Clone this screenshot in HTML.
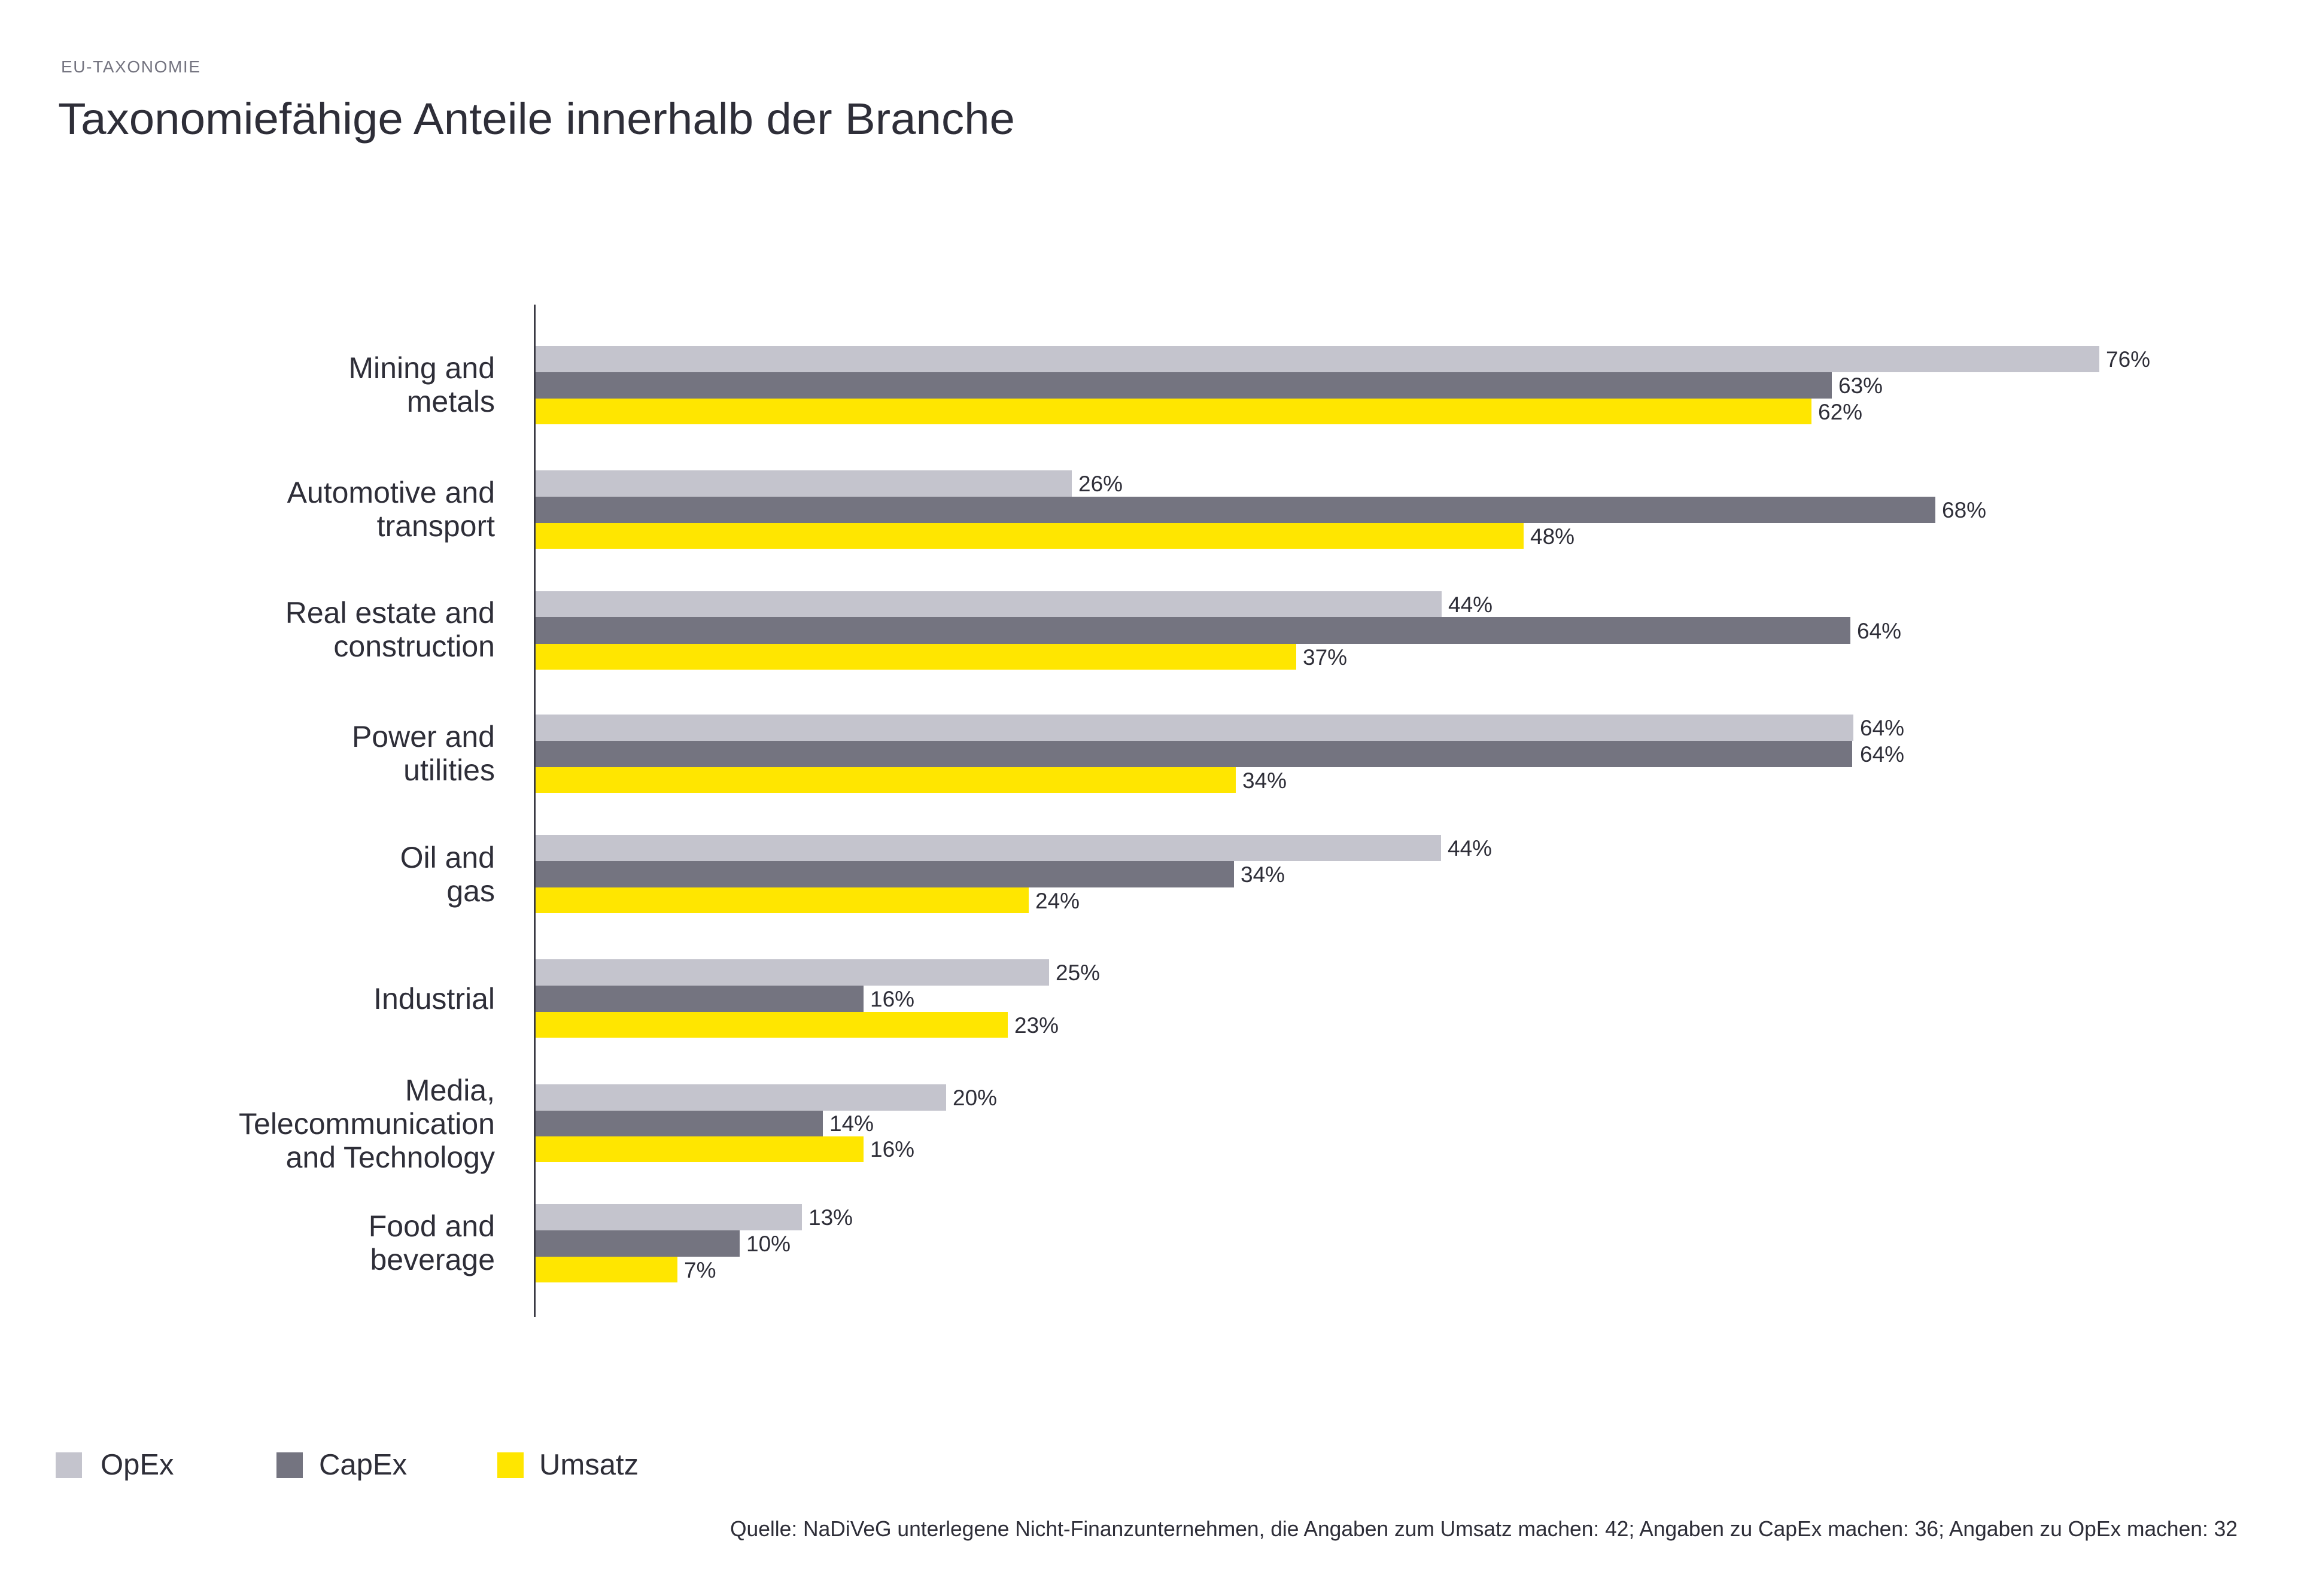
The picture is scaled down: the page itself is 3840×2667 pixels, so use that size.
<!DOCTYPE html>
<html>
<head>
<meta charset="utf-8">
<style>
  html, body { margin: 0; padding: 0; background: #ffffff; }
  svg { display: block; }
  text { font-family: "Liberation Sans", "DejaVu Sans", sans-serif; fill: #2e2e38; }
</style>
</head>
<body>
<svg width="3840" height="2667" viewBox="0 0 3840 2667" xmlns="http://www.w3.org/2000/svg">
  <rect x="0" y="0" width="3840" height="2667" fill="#ffffff"/>

  <!-- Header -->
  <text x="102" y="121" font-size="28" style="fill:#747480" textLength="232" lengthAdjust="spacing">EU-TAXONOMIE</text>
  <text x="97" y="224" font-size="74" textLength="1599" lengthAdjust="spacingAndGlyphs">Taxonomiefähige Anteile innerhalb der Branche</text>

  <!-- Axis -->
  <rect x="892" y="509" width="3" height="1692" fill="#3a3a44"/>

  <!-- Mining and metals (top 578) -->
  <rect x="895" y="578" width="2613" height="44" fill="#c4c4cd"/>
  <rect x="895" y="622" width="2166" height="44" fill="#747480"/>
  <rect x="895" y="666" width="2132" height="43" fill="#ffe600"/>
  <text x="3519" y="613" font-size="37">76%</text>
  <text x="3072" y="657" font-size="37">63%</text>
  <text x="3038" y="701" font-size="37">62%</text>
  <text x="827" y="632" font-size="50" text-anchor="end">Mining and</text>
  <text x="827" y="688" font-size="50" text-anchor="end">metals</text>

  <!-- Automotive and transport (top 786) -->
  <rect x="895" y="786" width="896" height="44" fill="#c4c4cd"/>
  <rect x="895" y="830" width="2339" height="44" fill="#747480"/>
  <rect x="895" y="874" width="1651" height="43" fill="#ffe600"/>
  <text x="1802" y="821" font-size="37">26%</text>
  <text x="3245" y="865" font-size="37">68%</text>
  <text x="2557" y="909" font-size="37">48%</text>
  <text x="827" y="840" font-size="50" text-anchor="end">Automotive and</text>
  <text x="827" y="896" font-size="50" text-anchor="end">transport</text>

  <!-- Real estate and construction (top 988) -->
  <rect x="895" y="988" width="1514" height="43" fill="#c4c4cd"/>
  <rect x="895" y="1031" width="2197" height="45" fill="#747480"/>
  <rect x="895" y="1076" width="1271" height="43" fill="#ffe600"/>
  <text x="2420" y="1023" font-size="37">44%</text>
  <text x="3103" y="1067" font-size="37">64%</text>
  <text x="2177" y="1111" font-size="37">37%</text>
  <text x="827" y="1041" font-size="50" text-anchor="end">Real estate and</text>
  <text x="827" y="1097" font-size="50" text-anchor="end">construction</text>

  <!-- Power and utilities (top 1194) -->
  <rect x="895" y="1194" width="2202" height="44" fill="#c4c4cd"/>
  <rect x="895" y="1238" width="2200" height="44" fill="#747480"/>
  <rect x="895" y="1282" width="1170" height="43" fill="#ffe600"/>
  <text x="3108" y="1229" font-size="37">64%</text>
  <text x="3108" y="1273" font-size="37">64%</text>
  <text x="2076" y="1317" font-size="37">34%</text>
  <text x="827" y="1248" font-size="50" text-anchor="end">Power and</text>
  <text x="827" y="1304" font-size="50" text-anchor="end">utilities</text>

  <!-- Oil and gas (top 1395) -->
  <rect x="895" y="1395" width="1513" height="44" fill="#c4c4cd"/>
  <rect x="895" y="1439" width="1167" height="44" fill="#747480"/>
  <rect x="895" y="1483" width="824" height="43" fill="#ffe600"/>
  <text x="2419" y="1430" font-size="37">44%</text>
  <text x="2073" y="1474" font-size="37">34%</text>
  <text x="1730" y="1518" font-size="37">24%</text>
  <text x="827" y="1450" font-size="50" text-anchor="end">Oil and</text>
  <text x="827" y="1506" font-size="50" text-anchor="end">gas</text>

  <!-- Industrial (top 1603) -->
  <rect x="895" y="1603" width="858" height="44" fill="#c4c4cd"/>
  <rect x="895" y="1647" width="548" height="44" fill="#747480"/>
  <rect x="895" y="1691" width="789" height="43" fill="#ffe600"/>
  <text x="1764" y="1638" font-size="37">25%</text>
  <text x="1454" y="1682" font-size="37">16%</text>
  <text x="1695" y="1726" font-size="37">23%</text>
  <text x="827" y="1686" font-size="50" text-anchor="end">Industrial</text>

  <!-- Media, Telecommunication and Technology (top 1812) -->
  <rect x="895" y="1812" width="686" height="44" fill="#c4c4cd"/>
  <rect x="895" y="1856" width="480" height="43" fill="#747480"/>
  <rect x="895" y="1899" width="548" height="43" fill="#ffe600"/>
  <text x="1592" y="1847" font-size="37">20%</text>
  <text x="1386" y="1890" font-size="37">14%</text>
  <text x="1454" y="1933" font-size="37">16%</text>
  <text x="827" y="1839" font-size="50" text-anchor="end">Media,</text>
  <text x="827" y="1895" font-size="50" text-anchor="end">Telecommunication</text>
  <text x="827" y="1951" font-size="50" text-anchor="end">and Technology</text>

  <!-- Food and beverage (top 2012) -->
  <rect x="895" y="2012" width="445" height="44" fill="#c4c4cd"/>
  <rect x="895" y="2056" width="341" height="44" fill="#747480"/>
  <rect x="895" y="2100" width="237" height="43" fill="#ffe600"/>
  <text x="1351" y="2047" font-size="37">13%</text>
  <text x="1247" y="2091" font-size="37">10%</text>
  <text x="1143" y="2135" font-size="37">7%</text>
  <text x="827" y="2066" font-size="50" text-anchor="end">Food and</text>
  <text x="827" y="2122" font-size="50" text-anchor="end">beverage</text>

  <!-- Legend -->
  <rect x="93" y="2427" width="44" height="43" fill="#c4c4cd"/>
  <text x="168" y="2464" font-size="49">OpEx</text>
  <rect x="462" y="2427" width="44" height="43" fill="#747480"/>
  <text x="533" y="2464" font-size="49">CapEx</text>
  <rect x="831" y="2427" width="44" height="43" fill="#ffe600"/>
  <text x="901" y="2464" font-size="49">Umsatz</text>

  <!-- Source -->
  <text x="1220" y="2567" font-size="36" textLength="2519" lengthAdjust="spacingAndGlyphs">Quelle: NaDiVeG unterlegene Nicht-Finanzunternehmen, die Angaben zum Umsatz machen: 42; Angaben zu CapEx machen: 36; Angaben zu OpEx machen: 32</text>
</svg>
</body>
</html>
